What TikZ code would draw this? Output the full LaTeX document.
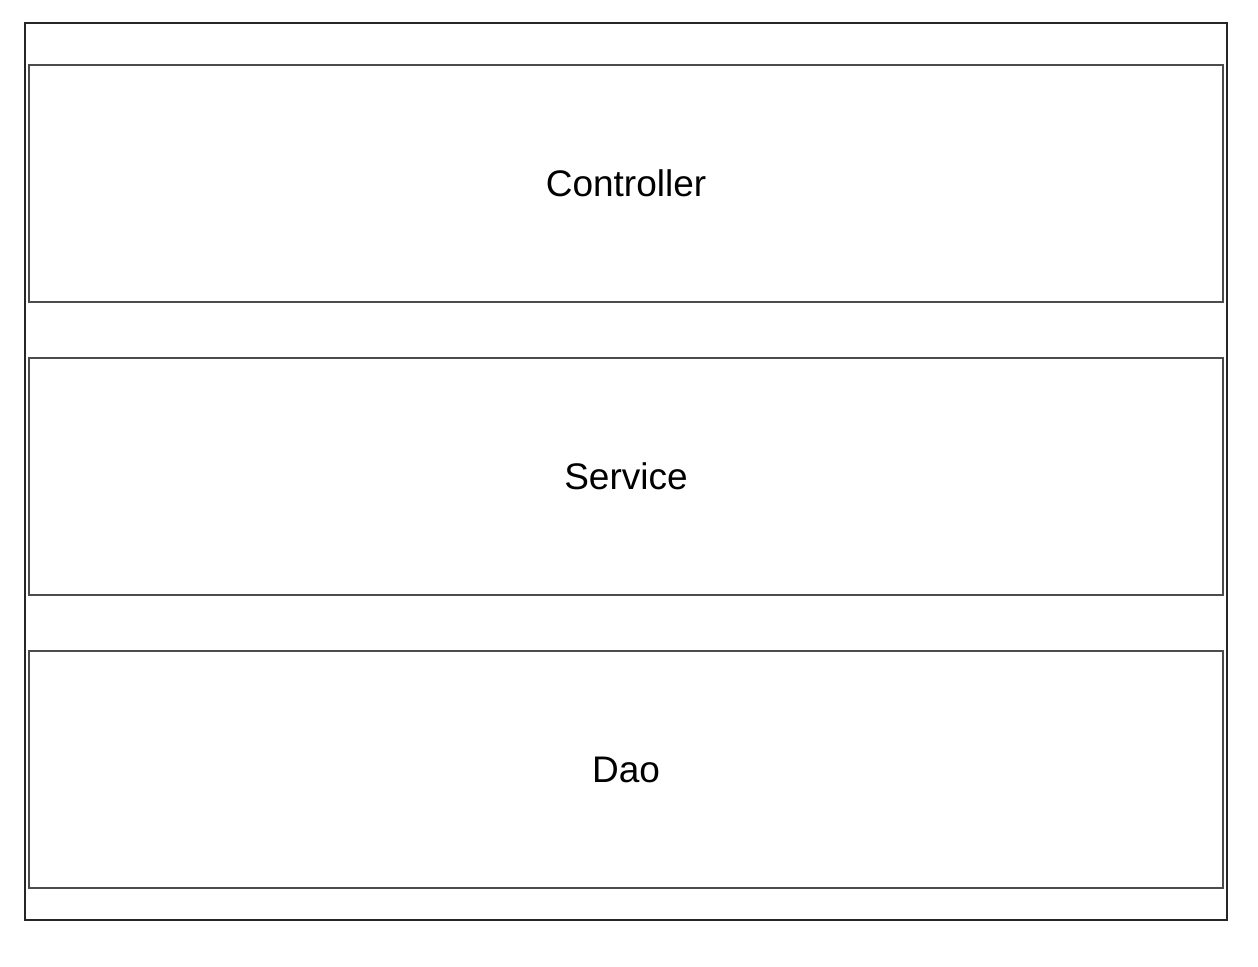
\documentclass[tikz,border=0pt]{standalone}
\usepackage{fontspec}
\setmainfont{Liberation Sans}
\usepackage{tikz}
\usetikzlibrary{positioning}
\tikzset{
    layer/.style={
           rectangle,
           draw=black!70, line width=0.75pt,
           minimum width=597pt,
           minimum height=118.5pt,
           inner sep=0pt,
           font=\fontsize{18.5}{22}\selectfont,
           text centered,
           },
    frame/.style={
           rectangle,
           draw=black!85, line width=0.8pt,
           minimum width=601pt,
           minimum height=448.5pt,
           inner sep=0pt,
           },
}

\begin{document}
\begin{tikzpicture}[x=0.5pt,y=-0.5pt,node distance=27.25pt]
      \useasboundingbox (0,0) rectangle (1258,966);
      \node[frame] (outer) at (626,471.5) {};
      \node[layer] (controller) at (626,183.5) {Controller};
      \node[layer] (service) [below=of controller] {Service};
      \node[layer] (dao) [below=of service] {Dao};
\end{tikzpicture}
\end{document}
